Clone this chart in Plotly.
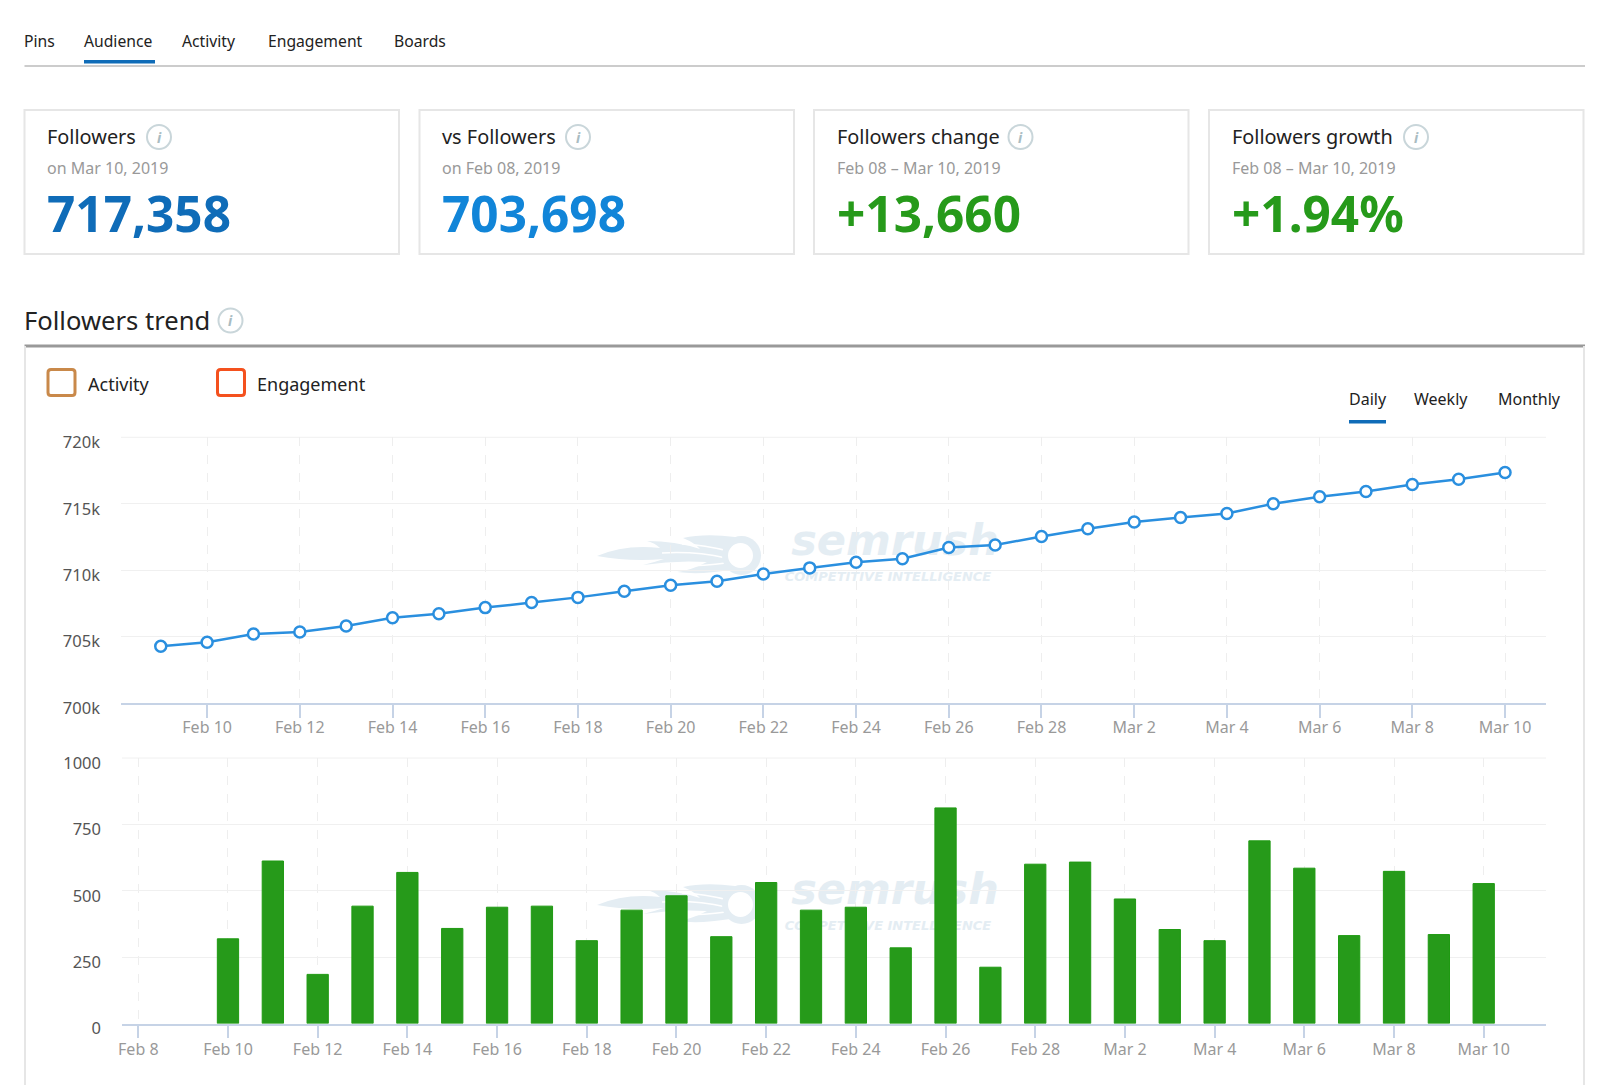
"""Followers dashboard panel: summary cards, followers trend and daily new followers."""

import plotly.graph_objects as go

W = 1600
H = 1085
FONT = "Noto Sans, Open Sans, sans-serif"
BLUE_TAB = "#0f6cb8"
BLUE_LINE = "#2a8fdf"
GREEN = "#269a1a"
BORDER = "#e6e6e6"
GRID = "#f0f0f0"
AXIS = "#c6d3e6"
MARK = "#e4edf3"

TABS = ["Pins", "Audience", "Activity", "Engagement", "Boards"]
PERIODS = ["Daily", "Weekly", "Monthly"]
LEGEND = ["Activity", "Engagement"]

CARD_TITLES = ["Followers", "vs Followers", "Followers change", "Followers growth"]
CARD_DATES = ["on Mar 10, 2019", "on Feb 08, 2019", "Feb 08 – Mar 10, 2019", "Feb 08 – Mar 10, 2019"]
CARD_VALUES = ["717,358", "703,698", "+13,660", "+1.94%"]
CARD_COLORS = [BLUE_TAB, "#1185d8", GREEN, GREEN]

DATES = [
    "2019-02-09", "2019-02-10", "2019-02-11", "2019-02-12", "2019-02-13", "2019-02-14",
    "2019-02-15", "2019-02-16", "2019-02-17", "2019-02-18", "2019-02-19", "2019-02-20",
    "2019-02-21", "2019-02-22", "2019-02-23", "2019-02-24", "2019-02-25", "2019-02-26",
    "2019-02-27", "2019-02-28", "2019-03-01", "2019-03-02", "2019-03-03", "2019-03-04",
    "2019-03-05", "2019-03-06", "2019-03-07", "2019-03-08", "2019-03-09", "2019-03-10",
]
FOLLOWERS = [
    704270, 704570, 705190, 705340, 705800, 706410, 706720, 707180, 707560, 707950,
    708410, 708870, 709170, 709710, 710170, 710590, 710860, 711700, 711890, 712540,
    713120, 713620, 713960, 714270, 715000, 715530, 715920, 716450, 716840, 717358,
]
BAR_DATES = DATES[1:]
NEW_FOLLOWERS = [
    319, 612, 185, 442, 569, 358, 438, 442, 312, 427, 481, 327, 531, 427, 438,
    285, 812, 212, 600, 608, 469, 354, 312, 688, 585, 331, 573, 335, 527,
]
FOLLOWER_TICKS = [700000, 705000, 710000, 715000, 720000]
FOLLOWER_LABELS = ["700k", "705k", "710k", "715k", "720k"]
BAR_TICKS = [0, 250, 500, 750, 1000]


def px(x):
    return x / W


def py(y):
    return 1 - y / H


def rect(x0, y0, x1, y1, line=None, width=1, fill=None):
    return dict(
        type="rect", xref="paper", yref="paper", layer="below",
        x0=px(x0), x1=px(x1), y0=py(y0), y1=py(y1),
        line=dict(color=line or "rgba(0,0,0,0)", width=width if line else 0),
        fillcolor=fill or "rgba(0,0,0,0)",
    )


def hline(x0, x1, y, color, width):
    return dict(
        type="line", xref="paper", yref="paper", layer="below",
        x0=px(x0), x1=px(x1), y0=py(y), y1=py(y), line=dict(color=color, width=width),
    )


def circle(cx, cy, r, line=None, width=1, fill=None):
    return dict(
        type="circle", xref="paper", yref="paper", layer="below",
        x0=px(cx - r), x1=px(cx + r), y0=py(cy + r), y1=py(cy - r),
        line=dict(color=line or "rgba(0,0,0,0)", width=width if line else 0),
        fillcolor=fill or "rgba(0,0,0,0)",
    )


def label(x, y, text, size, color="#222222", anchor="left", bold=False, italic=False):
    # annotations keep a small inner gap, so left-aligned text is pulled back to its real start
    if anchor == "left":
        x -= 2.5
    return dict(
        xref="paper", yref="paper", x=px(x), y=py(y), text=text, showarrow=False,
        xanchor=anchor, yanchor="middle", align=anchor,
        font=dict(family=FONT, size=size, color=color,
                  weight="bold" if bold else "normal", style="italic" if italic else "normal"),
    )


def info_icon(cx, cy):
    shapes.append(circle(cx, cy, 12, line="#c9d6da", width=2, fill="white"))
    annotations.append(label(cx, cy, "i", 14, color="#a9bcc2", anchor="center", bold=True, italic=True))


def check_box(x0, y0, x1, y1, color):
    r = 3
    path = (
        f"M {x0 + r} {y0} L {x1 - r} {y0} Q {x1} {y0} {x1} {y0 + r} L {x1} {y1 - r} "
        f"Q {x1} {y1} {x1 - r} {y1} L {x0 + r} {y1} Q {x0} {y1} {x0} {y1 - r} "
        f"L {x0} {y0 + r} Q {x0} {y0} {x0 + r} {y0} Z"
    )
    shapes.append(dict(type="path", xref="x", yref="y", layer="below", path=path,
                       fillcolor="white", line=dict(color=color, width=3)))


def shift_path(path, dy):
    out = []
    nums = 0
    for tok in path.split():
        if tok.isalpha():
            out.append(tok)
        else:
            out.append(str(int(tok) + dy) if nums % 2 else tok)
            nums += 1
    return " ".join(out)


def flame(dy):
    # rough watermark logo, drawn in the hidden pixel-space axes
    body = (
        "M 597 556 Q 625 544 660 548 Q 655 543 647 541 Q 675 541 700 549 Q 695 543 683 538 "
        "Q 705 533 735 537 L 730 570 Q 700 575 677 572 Q 692 570 707 562 Q 675 560 643 565 "
        "Q 655 562 664 559 Q 630 562 597 556 Z"
    )
    streaks = ["M 662 553 Q 695 551 726 558", "M 682 544 Q 705 545 728 551", "M 680 566 Q 705 566 726 563"]
    shapes.append(dict(type="path", xref="x", yref="y", layer="below",
                       path=shift_path(body, dy), fillcolor=MARK, line=dict(width=0)))
    for path in streaks:
        shapes.append(dict(type="path", xref="x", yref="y", layer="below",
                           path=shift_path(path, dy), line=dict(color="white", width=1.5)))
    shapes.append(dict(type="circle", xref="x", yref="y", layer="below",
                       x0=722, x1=761, y0=536 + dy, y1=575 + dy,
                       fillcolor=MARK, line=dict(width=0)))
    shapes.append(dict(type="circle", xref="x", yref="y", layer="below",
                       x0=727, x1=754, y0=542 + dy, y1=569 + dy,
                       fillcolor="white", line=dict(color=MARK, width=2)))


shapes = []
annotations = []

# tabs
for name, x in zip(TABS, [24.5, 84, 182.7, 268.4, 394]):
    annotations.append(label(x, 41, name, 15.7))
shapes.append(hline(24.5, 1585, 66, "#cccccc", 2))
shapes.append(rect(84, 60, 155, 63.5, fill=BLUE_TAB))

# summary cards
for i, x in enumerate([24.5, 419.5, 814, 1209]):
    shapes.append(rect(x, 110, x + 374.5, 254, line=BORDER, width=2, fill="white"))
    annotations.append(label(x + 23, 136.5, CARD_TITLES[i], 19.9))
    annotations.append(label(x + 23, 167.5, CARD_DATES[i], 16, color="#999999"))
    annotations.append(label(x + 23, 213, CARD_VALUES[i], 49.5, color=CARD_COLORS[i], bold=True))
for cx in [159, 578, 1020.5, 1416]:
    info_icon(cx, 137)

# trend panel frame
annotations.append(label(24.5, 320, "Followers trend", 25.6))
info_icon(230.5, 320.5)
shapes.append(hline(24.5, 1585, 346, "#999999", 3))
shapes.append(dict(type="line", xref="paper", yref="paper", layer="below",
                   x0=px(25), x1=px(25), y0=py(346), y1=0, line=dict(color=BORDER, width=2)))
shapes.append(dict(type="line", xref="paper", yref="paper", layer="below",
                   x0=px(1584), x1=px(1584), y0=py(346), y1=0, line=dict(color=BORDER, width=2)))

# legend and period switch
for name, x, color in zip(LEGEND, [48, 217.5], ["#c9894a", "#f4511e"]):
    check_box(x, 369.5, x + 27, 395.5, color)
    annotations.append(label(x + 40, 384, name, 18))
for name, x in zip(PERIODS, [1349.3, 1414.7, 1498.7]):
    annotations.append(label(x, 399, name, 16))
shapes.append(rect(1349, 420, 1386, 423.5, fill=BLUE_TAB))

# plotly leaves out the gridline at the top of each value axis
shapes.append(hline(121, 1546, 437.3, GRID, 1))
shapes.append(hline(122, 1546, 758, GRID, 1))

flame(0)
flame(349)

fig = go.Figure()

# watermark text sits on a hidden pixel-space axis pair so the charts draw over it
for dy in [0, 349]:
    fig.add_trace(go.Scatter(
        x=[895, 888], y=[544 + dy, 578 + dy], xaxis="x", yaxis="y",
        mode="text", text=["semrush", "COMPETITIVE INTELLIGENCE"], hoverinfo="skip",
        textfont=dict(family="DejaVu Sans", size=[43, 13], color=MARK, weight="bold", style="italic"),
    ))

fig.add_trace(go.Scatter(
    x=DATES, y=FOLLOWERS, xaxis="x2", yaxis="y2", mode="lines+markers",
    line=dict(color=BLUE_LINE, width=2.5),
    marker=dict(size=11, color="white", line=dict(color=BLUE_LINE, width=2.5)),
))
fig.add_trace(go.Bar(
    x=BAR_DATES, y=NEW_FOLLOWERS, xaxis="x3", yaxis="y3", width=41000000,
    marker=dict(color=GREEN, line=dict(color="#1f9a12", width=1)),
))

date_axis = dict(
    type="date", dtick=172800000, tickformat="%b %-d", showline=True, linecolor=AXIS, linewidth=1.5,
    ticks="outside", ticklen=13, tickcolor=AXIS, tickwidth=1.5, showgrid=True, gridcolor="#eeeeee",
    griddash="dash", gridwidth=1, zeroline=False, automargin=False,
    tickfont=dict(family=FONT, size=16, color="#999999"),
)
value_axis = dict(
    showgrid=True, gridcolor=GRID, gridwidth=1, zeroline=False, showline=False, ticks="",
    ticklabelstandoff=20, ticklabelshift=5, automargin=False,
    tickfont=dict(family=FONT, size=16.5, color="#555555"),
)

fig.update_layout(
    width=W,
    height=H,
    margin=dict(l=0, r=0, t=0, b=0),
    paper_bgcolor="white",
    plot_bgcolor="rgba(0,0,0,0)",
    showlegend=False,
    font=dict(family=FONT),
    shapes=shapes,
    annotations=annotations,
    xaxis=dict(domain=[0, 1], range=[0, W], visible=False, fixedrange=True, automargin=False),
    yaxis=dict(domain=[0, 1], range=[H, 0], visible=False, fixedrange=True, automargin=False),
    xaxis2=dict(date_axis, domain=[px(121), px(1546)], anchor="y2", tick0="2019-02-10",
                ticklabelstandoff=-4, range=["2019-02-08 03:25", "2019-03-10 21:13"]),
    yaxis2=dict(value_axis, domain=[py(703), py(437.3)], anchor="x2", range=[700000, 720000],
                tickvals=FOLLOWER_TICKS, ticktext=FOLLOWER_LABELS),
    xaxis3=dict(date_axis, domain=[px(122), px(1546)], anchor="y3", tick0="2019-02-08",
                ticklabelstandoff=-2, range=["2019-02-07 15:17", "2019-03-11 09:20"]),
    yaxis3=dict(value_axis, domain=[py(1023.5), py(758)], anchor="x3", range=[0, 1000],
                tickvals=BAR_TICKS),
)

fig.write_html("out.html", config={"displayModeBar": False}, post_script="document.body.style.margin='0';")
